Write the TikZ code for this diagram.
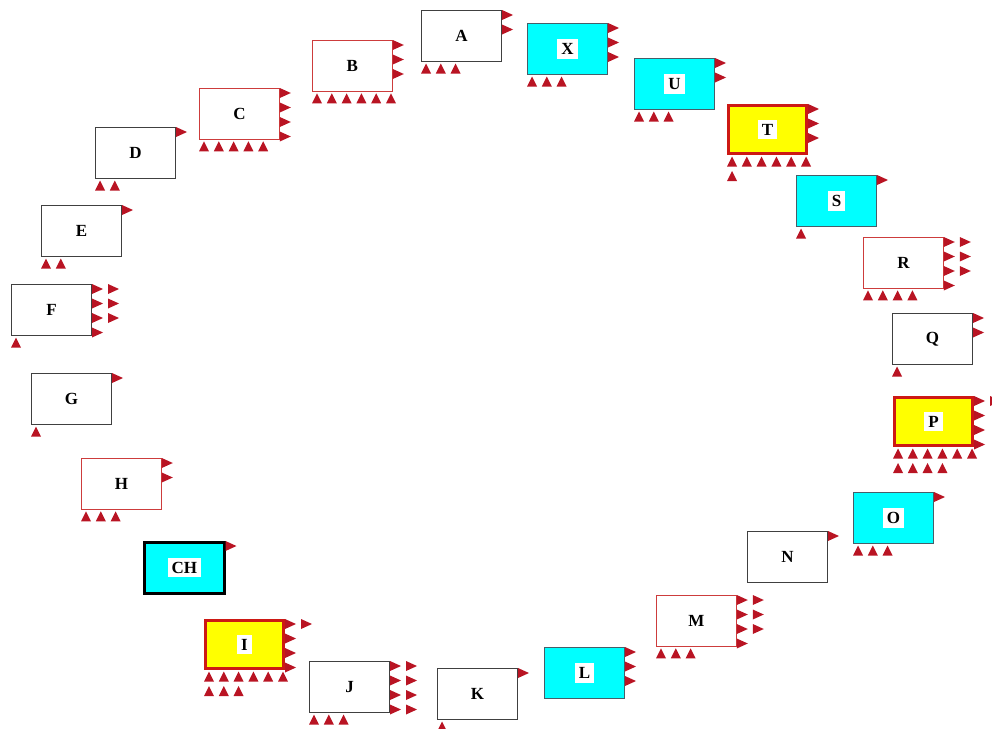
\documentclass[tikz,border=0pt]{standalone}
\usepackage{fontspec}
\setmainfont{Liberation Serif}
\usepackage{tikz}
\usetikzlibrary{positioning}

\definecolor{portred}{RGB}{185,20,35}
\definecolor{edgered}{RGB}{205,60,60}
\definecolor{thickred}{RGB}{205,25,20}
\definecolor{slate}{RGB}{70,95,105}
\definecolor{boxcyan}{RGB}{0,255,255}
\definecolor{boxyellow}{RGB}{255,255,0}

\tikzstyle{block} = [rectangle, minimum width=80pt, minimum height=51pt, inner sep=0pt, text centered, font=\fontsize{17}{20}\selectfont\bfseries, anchor=north west]
\tikzstyle{blockplain} = [block, draw=black!75, line width=1pt]
\tikzstyle{blockred} = [block, draw=edgered, line width=0.8pt]
\tikzstyle{blockcyan} = [block, fill=boxcyan, draw=slate, line width=1pt]
\tikzstyle{blockch} = [block, fill=boxcyan, draw=black, line width=2.5pt]
\tikzstyle{blockyellow} = [block, fill=boxyellow, draw=thickred, line width=3pt, minimum width=78pt, minimum height=48pt]
\tikzstyle{port} = [fill=portred]

\setlength{\fboxsep}{4pt}
\newcommand{\lbl}[1]{\colorbox{white}{#1}}

% ports on the right side: node, how many, column
\newcommand{\outports}[3]{%
  \foreach \k in {1,...,#2}
    \fill[port] (#1.north east) ++({#3*16},{0+(\k-1)*14.5}) -- ++(11,5) -- ++(-11,5) -- cycle;
}
% ports under the block: node, how many, row
\newcommand{\inports}[3]{%
  \foreach \k in {1,...,#2}
    \fill[port] (#1.south west) ++({0+(\k-1)*14.8},{11.5+#3*14.5}) -- ++(5,-10) -- ++(5,10) -- cycle;
}

\begin{document}
\begin{tikzpicture}[x=1pt, y=-1pt]
 \useasboundingbox (0,0) rectangle (992,728);

 % top arc
 \node (A) [blockplain] at (421,10) {A};
 \node (B) [blockred] at (312,40) {B};
 \node (X) [blockcyan] at (527,23) {\lbl{X}};
 \node (U) [blockcyan] at (634,58) {\lbl{U}};
 \node (T) [blockyellow] at (727,104) {\lbl{T}};
 \node (S) [blockcyan] at (796,175) {\lbl{S}};
 \node (R) [blockred] at (863,237) {R};
 \node (Q) [blockplain] at (892,313) {Q};
 \node (P) [blockyellow] at (893,396) {\lbl{P}};
 \node (O) [blockcyan] at (853,492) {\lbl{O}};
 % bottom arc
 \node (N) [blockplain] at (747,531) {N};
 \node (M) [blockred] at (656,595) {M};
 \node (L) [blockcyan] at (544,647) {\lbl{L}};
 \node (K) [blockplain] at (437,668) {K};
 \node (J) [blockplain] at (309,661) {J};
 \node (I) [blockyellow] at (204,619) {\lbl{I}};
 \node (CH) [blockch] at (143,541) {\lbl{CH}};
 \node (H) [blockred] at (81,458) {H};
 \node (G) [blockplain] at (31,373) {G};
 \node (F) [blockplain] at (11,284) {F};
 \node (E) [blockplain] at (41,205) {E};
 \node (D) [blockplain] at (95,127) {D};
 \node (C) [blockred] at (199,88) {C};

 % ports
 \outports{A}{2}{0} \inports{A}{3}{0}
 \outports{B}{3}{0} \inports{B}{6}{0}
 \outports{X}{3}{0} \inports{X}{3}{0}
 \outports{U}{2}{0} \inports{U}{3}{0}
 \outports{T}{3}{0} \inports{T}{6}{0} \inports{T}{1}{1}
 \outports{S}{1}{0} \inports{S}{1}{0}
 \outports{R}{4}{0} \outports{R}{3}{1} \inports{R}{4}{0}
 \outports{Q}{2}{0} \inports{Q}{1}{0}
 \outports{P}{4}{0} \outports{P}{1}{1} \inports{P}{6}{0} \inports{P}{4}{1}
 \outports{O}{1}{0} \inports{O}{3}{0}
 \outports{N}{1}{0}
 \outports{M}{4}{0} \outports{M}{3}{1} \inports{M}{3}{0}
 \outports{L}{3}{0}
 \outports{K}{1}{0} \inports{K}{1}{0}
 \outports{J}{4}{0} \outports{J}{4}{1} \inports{J}{3}{0}
 \outports{I}{4}{0} \outports{I}{1}{1} \inports{I}{6}{0} \inports{I}{3}{1}
 \outports{CH}{1}{0}
 \outports{H}{2}{0} \inports{H}{3}{0}
 \outports{G}{1}{0} \inports{G}{1}{0}
 \outports{F}{4}{0} \outports{F}{3}{1} \inports{F}{1}{0}
 \outports{E}{1}{0} \inports{E}{2}{0}
 \outports{D}{1}{0} \inports{D}{2}{0}
 \outports{C}{4}{0} \inports{C}{5}{0}

\end{tikzpicture}
\end{document}
